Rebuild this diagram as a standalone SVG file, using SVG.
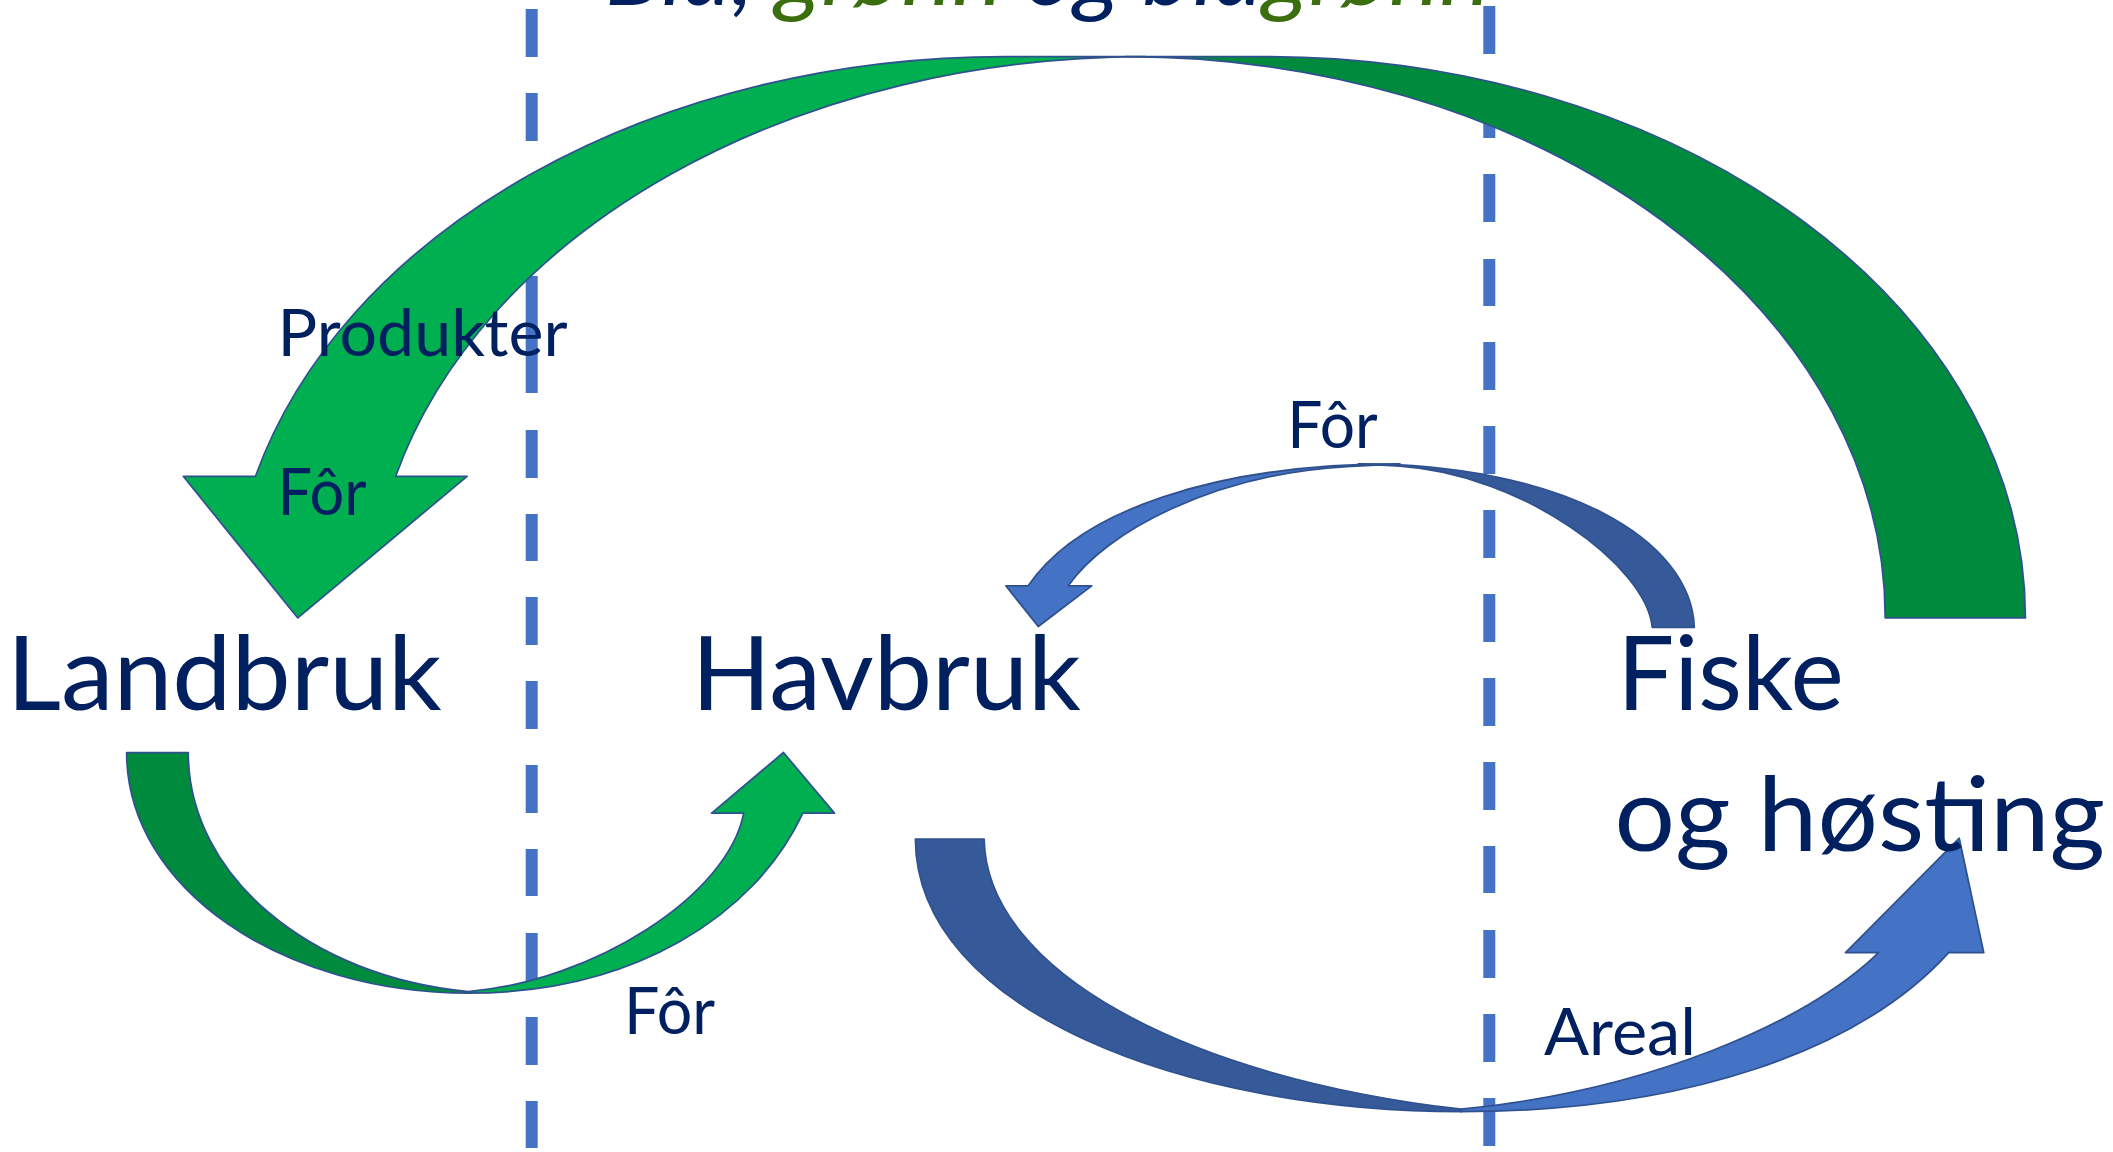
<svg xmlns="http://www.w3.org/2000/svg" width="2113" height="1152" viewBox="0 0 2113 1152">
<style>
.txt{font-family:Lato,"Open Sans","Liberation Sans",sans-serif;fill:#002060}
.node{font-size:103px}
.lbl{font-size:65px}
.dash{stroke:#4472C4;stroke-width:12;fill:none}
.ol{stroke:#2F528F;stroke-width:1.3;stroke-linejoin:round}
.g1{fill:#00B050}.g2{fill:#008A3E}.b1{fill:#4472C4}.b2{fill:#36599A}
</style>
<rect x="0" y="0" width="2113" height="1152" fill="#FFFFFF"/>
<g id="title">
<text class="txt" x="605" y="5" font-size="90" font-style="italic" textLength="885" lengthAdjust="spacingAndGlyphs"><tspan>Blå, </tspan><tspan fill="#3A6E0F">grønn</tspan><tspan> og blå</tspan><tspan fill="#3A6E0F">grønn</tspan></text>
</g>
<g id="dividers">
<path class="dash" d="M531.7 9V57M531.7 93V141M531.7 178V226M531.7 276V393M531.7 430V478M531.7 514V561M531.7 597V645M531.7 681V729M531.7 765V813M531.7 849V896M531.7 933V981M531.7 1017V1065M531.7 1101V1148"/>
<path class="dash" d="M1489.3 6V54M1489.3 90V138M1489.3 174V222M1489.3 259V306M1489.3 342V390M1489.3 426V474M1489.3 510V558M1489.3 594V642M1489.3 678V726M1489.3 762V810M1489.3 846V893M1489.3 930V978M1489.3 1014V1062M1489.3 1098V1146"/>
</g>
<g id="connectors" transform="scale(1.34757 1.34743)">
<g id="arrow-areal">
<path class="ol b2" d="M679.3,622.8 C680,750 880,825 1084.3,825 L1084.3,823.2 C880,800 732,720 730.3,622.8 Z"/>
<path class="ol b1" d="M1084.3,825 C1250,825 1380,780 1446.1,707 L1472.1,707 L1453.9,622.1 L1369.5,707 L1394,707 C1340,760 1220,810 1084.3,823.2 Z"/>
</g>
<g id="arrow-produkter">
<path class="ol g2" d="M1503,458.6 A564,416.6 0 0 0 939,42 L835,42 A564,416.6 0 0 1 1399,458.6 Z"/>
<path class="ol g1" d="M850,42 L746,42 A575,416.6 0 0 0 189.6,353.5 L136,353.5 L221,458.6 L346.6,353.5 L293.6,353.5 A575,416.6 0 0 1 850,42 Z"/>
</g>
<g id="arrow-for-mid">
<path class="ol b2" d="M1257.3,465.6 C1255,400 1160,344.3 1008,344.3 L1039,346 C1130,352 1222,420 1226.1,465.6 Z"/>
<path class="ol b1" d="M1038.9,344.3 C900,344 800,380 763,434.8 L746.5,434.8 L770.5,465 L810.1,434.8 L792.7,434.8 C820,395 900,352 999.3,346.3 Z"/>
</g>
<g id="arrow-for-bottom">
<path class="ol g2" d="M94,558.5 C94,660 210,737 347.6,737.1 L347.6,735.9 C230,725 139.7,650 139.7,558.5 Z"/>
<path class="ol g1" d="M347.6,737.1 C470,737 560,680 595.8,603.5 L619.2,603.5 L581.4,558.5 L528.1,603.5 L551.9,603.5 C540,665 440,728 347.6,735.9 Z"/>
</g>
</g>
<g id="labels">
<text class="txt lbl" x="277.6" y="356" textLength="290" lengthAdjust="spacingAndGlyphs">Produkter</text>
<text class="txt lbl" x="277.6" y="514.6" textLength="89" lengthAdjust="spacingAndGlyphs">Fôr</text>
<text class="txt lbl" x="1287.3" y="447.6" textLength="90.5" lengthAdjust="spacingAndGlyphs">Fôr</text>
<text class="txt lbl" x="624" y="1034" textLength="91" lengthAdjust="spacingAndGlyphs">Fôr</text>
<text class="txt lbl" x="1544" y="1055" textLength="152" lengthAdjust="spacingAndGlyphs">Areal</text>
</g>
<g id="landbruk">
<text class="txt node" x="6.7" y="710" textLength="435" lengthAdjust="spacingAndGlyphs">Landbruk</text>
</g>
<g id="havbruk">
<text class="txt node" x="691.4" y="710" textLength="389.5" lengthAdjust="spacingAndGlyphs">Havbruk</text>
</g>
<g id="fiske">
<text class="txt node" x="1617.3" y="710" textLength="226.4" lengthAdjust="spacingAndGlyphs">Fiske</text>
<text class="txt node" x="1614.6" y="851" textLength="490.5" lengthAdjust="spacingAndGlyphs">og høsting</text>
</g>
</svg>
